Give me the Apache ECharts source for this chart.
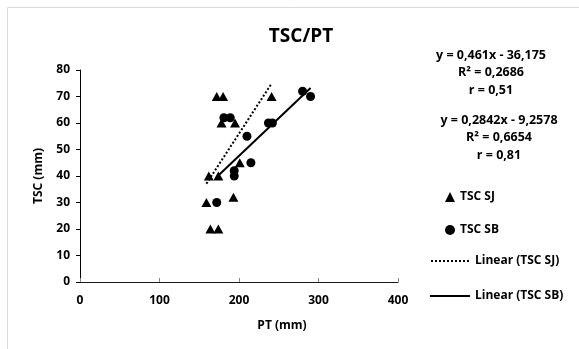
<!DOCTYPE html>
<html lang="en">
<head>
    <meta charset="UTF-8">
    <title>TSC/PT</title>
    <script src="https://cdn.jsdelivr.net/npm/echarts@6/dist/echarts.min.js"></script>
    <style>
        * { margin: 0; padding: 0; box-sizing: border-box; }
        body { background: #fff; }
        #chart { width: 579px; height: 349px; }
    </style>
</head>
<body>
    <div id="chart"></div>

    <script>
        // TSC SJ (triangles)
        const sjX = [172, 180, 241, 178, 195, 201, 162, 174, 159, 193, 164, 174];
        const sjY = [70, 70, 70, 60, 60, 45, 40, 40, 30, 32, 20, 20];
        // TSC SB (circles)
        const sbX = [280, 290, 237, 242, 181, 189, 210, 215, 194, 194, 172];
        const sbY = [72, 70, 60, 60, 62, 62, 55, 45, 40, 42, 30];
        // trend line end points
        const sjTrendX = [159, 241];
        const sjTrendY = [37.1, 74.9];
        const sbTrendX = [172, 290];
        const sbTrendY = [39.6, 73.2];
        const xTicks = [0, 100, 200, 300, 400];
        const yTicks = [0, 10, 20, 30, 40, 50, 60, 70, 80];
        const eqSJ = ['y = 0,461x - 36,175', 'R² = 0,2686', 'r = 0,51'];
        const eqSB = ['y = 0,2842x - 9,2578', 'R² = 0,6654', 'r = 0,81'];

        const pairs = (xs, ys) => xs.map((x, i) => [x, ys[i]]);
        const font = "'Open Sans', sans-serif";
        const lbl = { color: '#000', fontWeight: 'bold', fontSize: 12, fontFamily: font };

        // legend samples for the trend lines (dotted and solid)
        let dots = 'path://';
        for (let i = 0; i < 40; i += 4) dots += 'M' + i + ',0h2v2h-2z';
        const solid = 'path://M0,0h40v2h-40z';

        const chart = echarts.init(document.getElementById('chart'));

        const eqText = (lines, cx, top) => lines.map((t, i) => ({
            type: 'text', x: cx, y: top + i * 17.5,
            style: { text: t, textAlign: 'center', textVerticalAlign: 'middle', fill: '#000',
                     font: 'bold 12.5px ' + font }
        }));

        chart.setOption({
            animation: false,
            title: {
                text: 'TSC/PT', left: 296, top: 22, textAlign: 'center',
                textStyle: { fontSize: 19, fontWeight: 'bold', color: '#000', fontFamily: font }
            },
            grid: { left: 80, right: 181, top: 70, bottom: 67 },
            legend: [
                {
                    data: ['TSC SJ', 'TSC SB'], orient: 'vertical', left: 445, top: 191, padding: 0,
                    itemWidth: 10, itemHeight: 10, itemGap: 21, itemTextGap: 20,
                    textStyle: lbl
                },
                {
                    data: [
                        { name: 'Linear (TSC SJ)', icon: dots },
                        { name: 'Linear (TSC SB)', icon: solid }
                    ],
                    orient: 'vertical', left: 430, top: 255, padding: 0,
                    itemWidth: 40, itemHeight: 2, itemGap: 23, itemTextGap: 6,
                    textStyle: lbl
                }
            ],
            xAxis: {
                type: 'value', min: xTicks[0], max: xTicks[xTicks.length - 1], interval: 100,
                name: 'PT (mm)', nameLocation: 'middle', nameGap: 38,
                nameTextStyle: Object.assign({ padding: [0, 0, 0, 86] }, lbl),
                axisLine: { lineStyle: { color: '#1a1a1a' } },
                axisTick: { inside: true, length: 4, lineStyle: { color: '#888' } },
                axisLabel: Object.assign({ margin: 13 }, lbl),
                splitLine: { show: false }
            },
            yAxis: {
                type: 'value', min: yTicks[0], max: yTicks[yTicks.length - 1], interval: 10,
                name: 'TSC (mm)', nameLocation: 'middle', nameGap: 35,
                nameTextStyle: lbl,
                axisLine: { show: true, lineStyle: { color: '#000' } },
                axisTick: { show: true, length: 4, lineStyle: { color: '#000' } },
                axisLabel: Object.assign({ margin: 10 }, lbl),
                splitLine: { show: false }
            },
            series: [
                {
                    name: 'TSC SJ', type: 'scatter', symbol: 'triangle', symbolSize: [10, 9],
                    itemStyle: { color: '#000', opacity: 1 }, data: pairs(sjX, sjY)
                },
                {
                    name: 'TSC SB', type: 'scatter', symbol: 'circle', symbolSize: 9,
                    itemStyle: { color: '#000', opacity: 1 }, data: pairs(sbX, sbY)
                },
                {
                    name: 'Linear (TSC SJ)', type: 'line', symbol: 'none',
                    lineStyle: { color: '#000', width: 2, type: [2, 2] },
                    itemStyle: { color: '#000' }, data: pairs(sjTrendX, sjTrendY)
                },
                {
                    name: 'Linear (TSC SB)', type: 'line', symbol: 'none',
                    lineStyle: { color: '#000', width: 2 },
                    itemStyle: { color: '#000' }, data: pairs(sbTrendX, sbTrendY)
                }
            ],
            graphic: [
                {
                    type: 'rect', shape: { x: 7.5, y: 7.5, width: 600, height: 400 },
                    style: { fill: 'none', stroke: '#d9d9d9', lineWidth: 1 }, silent: true
                }
            ].concat(eqText(eqSJ, 491, 55), eqText(eqSB, 499, 120))
        });
    </script>
</body>
</html>
